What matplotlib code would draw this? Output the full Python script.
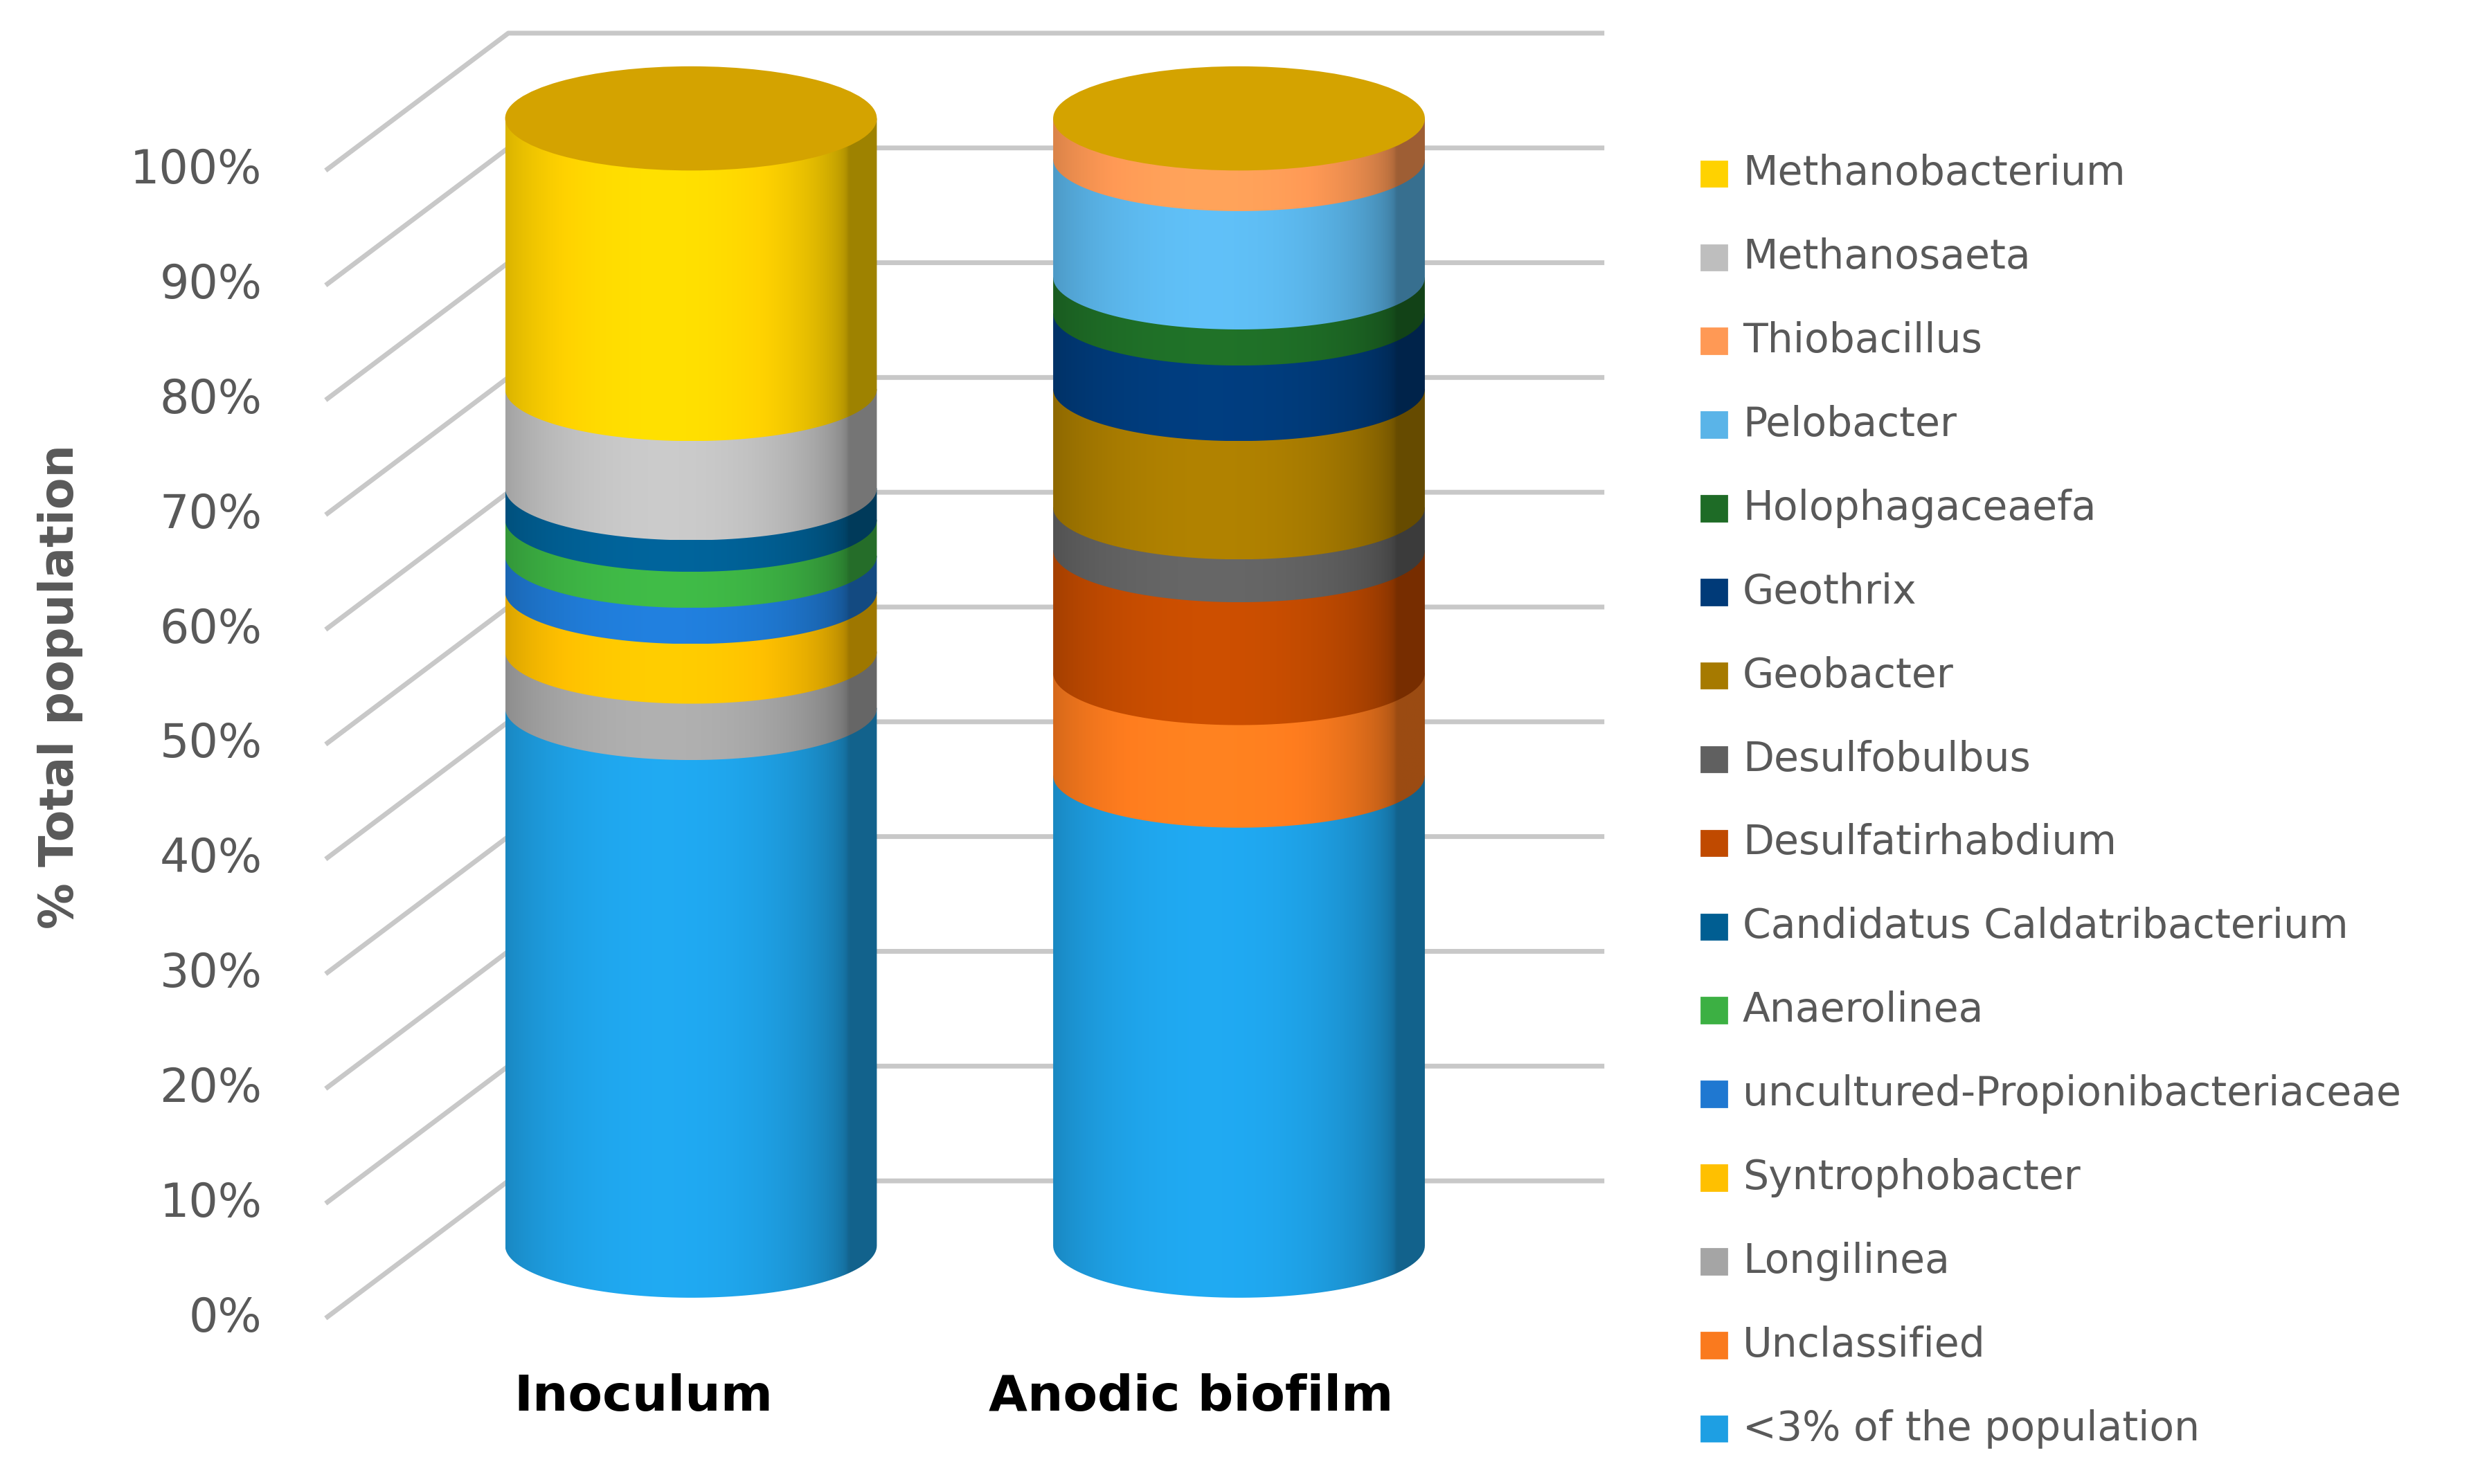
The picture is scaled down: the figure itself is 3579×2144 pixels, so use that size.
import numpy as np
import matplotlib.pyplot as plt
from matplotlib.patches import Polygon, Ellipse, Rectangle
from matplotlib.colors import to_rgb

categories = ["Inoculum", "Anodic biofilm"]
taxa = ["<3% of the population", "Unclassified", "Longilinea", "Syntrophobacter",
        "uncultured-Propionibacteriaceae", "Anaerolinea", "Candidatus Caldatribacterium",
        "Desulfatirhabdium", "Desulfobulbus", "Geobacter", "Geothrix", "Holophagaceaefa",
        "Pelobacter", "Thiobacillus", "Methanosaeta", "Methanobacterium"]
colors = ["#1E9FE3", "#FA7A1E", "#A5A5A5", "#FFC000", "#1F78D1", "#3CB043", "#005E92",
          "#C04A00", "#606060", "#A67A00", "#003A78", "#1E6B26", "#5AB4E8", "#FF9955",
          "#BEBEBE", "#FFD200"]
inoculum = [47.7, 0, 5.0, 5.3, 3.2, 3.2, 2.8, 0, 0, 0, 0, 0, 0, 0, 8.8, 24.0]
biofilm = [41.7, 9.1, 0, 0, 0, 0, 0, 10.9, 3.8, 10.5, 6.7, 3.2, 10.5, 3.6, 0, 0]
yticks = np.arange(0, 101, 10)

fig = plt.figure(figsize=(17.895, 10.72), dpi=200)
ax = fig.add_axes([0, 0, 1, 1])
ax.set_xlim(0, 1560)
ax.set_ylim(940, 0)
ax.axis("off")

# back wall grid
for v in yticks:
    yl = 835 - v * 7.27
    ax.plot([205, 320, 1010], [yl, yl - 87, yl - 87], color="#C8C8C8", lw=2.5,
            solid_capstyle="butt", zorder=0)
    ax.text(165, yl, "%d%%" % v, ha="right", va="center", fontsize=24, color="#595959")
ax.text(38, 435, "% Total population", rotation=90, ha="center", va="center",
        fontsize=24, fontweight="bold", color="#595959")

Y0, SC, RY = 789, 7.14, 33
shade_t = np.linspace(-1, 1, 200)
shade = 0.62 + 0.45 * np.sqrt(np.clip(1 - (shade_t + 0.15) ** 2, 0, 1))
shade = np.clip(shade, 0, 1.08)


def shaded(patch, col, x0, x1, y0, y1, z):
    ax.add_patch(patch)
    patch.set_visible(False)
    c = np.array(to_rgb(col))
    img = np.clip(shade[None, :, None] * c[None, None, :], 0, 1)
    im = ax.imshow(img, extent=[x0, x1, y1, y0], aspect="auto", zorder=z,
                   interpolation="bilinear")
    im.set_clip_path(patch)


def cylinder(cx, vals, label):
    rx = 117
    x0, x1 = cx - rx, cx + rx
    th = np.linspace(0, np.pi, 80)
    base = 0
    for i, (v, col) in enumerate(zip(vals, colors)):
        if v <= 0:
            continue
        yb = Y0 - base * SC
        yt = Y0 - (base + v) * SC
        arc = np.column_stack([cx + rx * np.cos(th), yb + RY * np.sin(th)])
        pts = np.vstack([[x1, yt], arc, [x0, yt]])
        shaded(Polygon(pts, closed=True, transform=ax.transData), col,
               x0, x1, yt, yb + RY, 2 + i)
        base += v
    ytop = Y0 - base * SC
    ax.add_patch(Ellipse((cx, ytop), 2 * rx, 2 * RY, color="#D4A300", zorder=30, lw=0))
    ax.text(cx - 30, 885, label, ha="center", va="center", fontsize=26,
            fontweight="bold", color="black")


cylinder(435, inoculum, categories[0])
cylinder(780, biofilm, categories[1])

# legend
for k, (name, col) in enumerate(zip(taxa[::-1], colors[::-1])):
    y = 110 + k * 53
    ax.add_patch(Rectangle((1071, y - 8), 16, 16, color=col, zorder=5))
    ax.text(1097, y, name, ha="left", va="center", fontsize=21, color="#595959")

fig.savefig("out.png", dpi=200)
